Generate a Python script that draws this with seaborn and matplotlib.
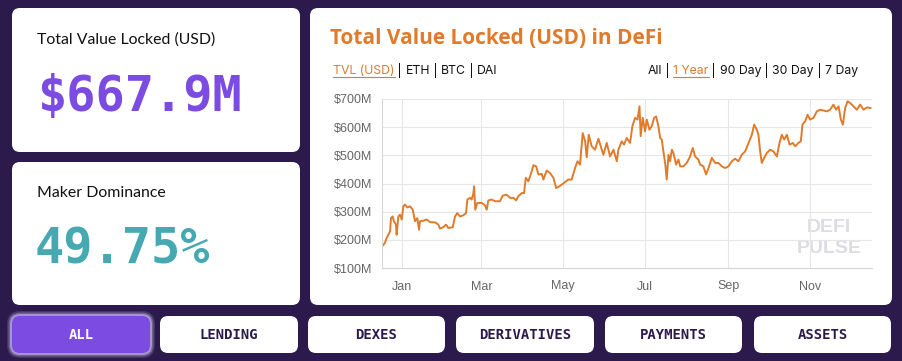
import numpy as np
import pandas as pd
import seaborn as sns
import matplotlib.pyplot as plt
import matplotlib.dates as mdates
from matplotlib.patches import FancyBboxPatch
from matplotlib.ticker import FuncFormatter

# data: days since 2018-12-17, TVL in $M
start_date = pd.Timestamp('2018-12-17')
day_offsets = [0.2, 2.2, 3.5, 4.7, 6.0, 6.7, 7.9, 8.9, 10.4, 10.9, 12.2, 13.4, 14.7, 15.9, 17.1, 18.9,
               20.9, 22.9, 24.6, 26.3, 27.6, 28.3, 30.8, 33.3, 35.8, 39.5, 42.0, 43.2, 45.7, 47.7, 49.4,
               52.7, 54.4, 56.1, 58.1, 60.6, 62.6, 63.6, 65.6, 66.8, 68.1, 68.6, 69.5, 71.0, 74.3, 76.8,
               78.0, 79.2, 81.7, 84.2, 87.9, 89.9, 92.9, 95.4, 97.9, 99.9, 101.6, 104.1, 105.8, 107.1,
               109.0, 110.8, 112.8, 114.8, 116.5, 119.0, 120.2, 122.7, 125.2, 127.7, 129.7, 132.1, 133.9,
               136.4, 138.8, 141.3, 143.8, 145.6, 147.5, 149.5, 151.3, 152.5, 154.0, 156.2, 158.7, 161.2,
               164.9, 167.4, 169.9, 172.4, 174.9, 176.1, 178.6, 180.3, 182.3, 184.8, 186.5, 188.5, 190.3,
               191.8, 192.7, 194.2, 196.0, 197.2, 199.2, 200.9, 202.7, 204.2, 205.9, 207.2, 208.4, 209.6,
               210.9, 212.1, 213.4, 214.6, 215.9, 217.1, 219.1, 220.8, 222.1, 224.5, 227.0, 229.5, 231.5,
               233.2, 235.7, 237.0, 239.4, 241.4, 243.2, 245.7, 248.1, 250.6, 253.1, 255.6, 258.1, 260.6,
               263.0, 265.5, 268.0, 270.5, 273.0, 275.5, 277.2, 279.2, 280.4, 281.7, 282.9, 284.7, 286.6,
               289.1, 291.6, 294.1, 296.1, 297.8, 299.6, 301.6, 303.6, 306.0, 307.8, 310.2, 312.0, 313.2,
               315.2, 317.0, 318.9, 321.4, 323.9, 326.4, 328.9, 331.4, 333.8, 336.3, 338.3, 340.1, 341.8,
               343.3, 345.0, 346.8, 348.7, 351.2, 353.7, 356.2, 358.7, 361.2, 364.1]
tvl_musd = [177, 189, 207, 218, 230, 277, 283, 266, 254, 218, 283, 289, 272, 319, 325, 315,
            319, 307, 266, 277, 236, 266, 268, 272, 263, 262, 254, 240, 245, 254, 242,
            245, 283, 295, 283, 287, 295, 343, 349, 343, 366, 390, 307, 331, 331, 322,
            307, 340, 343, 337, 337, 357, 360, 349, 349, 340, 355, 366, 366, 420,
            408, 432, 465, 461, 432, 434, 414, 446, 437, 420, 384, 390, 396,
            405, 414, 414, 455, 479, 467, 579, 550, 493, 573, 532, 520, 559,
            502, 544, 496, 520, 479, 520, 550, 538, 562, 544, 603, 633, 627,
            674, 568, 633, 585, 627, 591, 603, 633, 638, 603, 562, 556, 514,
            473, 414, 502, 479, 520, 508, 467, 485, 461, 461, 473, 496, 526,
            496, 485, 467, 461, 432, 455, 491, 473, 473, 461, 455, 461, 479,
            488, 479, 502, 514, 544, 573, 609, 591, 573, 514, 473, 491, 508,
            520, 514, 496, 544, 573, 556, 573, 538, 544, 532, 544, 550, 609,
            621, 644, 627, 633, 656, 662, 659, 656, 662, 680, 662, 674, 627,
            609, 668, 692, 686, 674, 662, 680, 662, 670, 668]

y_ticks = [100, 200, 300, 400, 500, 600, 700]
headline_tvl = '$667.9M'
headline_dom = '49.75%'
categories = ['ALL', 'LENDING', 'DEXES', 'DERIVATIVES', 'PAYMENTS', 'ASSETS']
unit_tabs = ['TVL (USD)', 'ETH', 'BTC', 'DAI']
range_tabs = ['All', '1 Year', '90 Day', '30 Day', '7 Day']

BG = '#2b1a4b'
ORANGE = '#e07b2c'
PURPLE = '#7b4be2'
TEAL = '#46a9b1'

sns.set_style('white')
plt.rcParams['font.family'] = ['Lato', 'DejaVu Sans']

W, H = 902, 361
fig = plt.figure(figsize=(W / 100, H / 100), dpi=100, facecolor=BG)

# full-figure axes in pixel units for the cards and buttons
bg = fig.add_axes([0, 0, 1, 1])
bg.set_xlim(0, W)
bg.set_ylim(H, 0)
bg.axis('off')
bg.patch.set_alpha(0)


def card(x0, y0, x1, y1, color='white', r=8, **kw):
    p = FancyBboxPatch((x0 + r, y0 + r), x1 - x0 - 2 * r, y1 - y0 - 2 * r,
                       boxstyle=f'round,pad={r}', fc=color, ec='none', **kw)
    bg.add_patch(p)


card(12, 8, 300, 152)
card(12, 162, 300, 305)
card(310, 8, 892, 305)

bg.text(37, 40, 'Total Value Locked (USD)', fontsize=11.4, color='#111111', va='center')
bg.text(37, 97, headline_tvl, fontsize=35, color=PURPLE, va='center',
        family='DejaVu Sans Mono', fontweight='bold')
bg.text(37, 193, 'Maker Dominance', fontsize=11.4, color='#111111', va='center')
bg.text(35, 250, headline_dom, fontsize=35, color=TEAL, va='center',
        family='DejaVu Sans Mono', fontweight='bold')

bg.text(330, 38, 'Total Value Locked (USD) in DeFi', fontsize=15, color=ORANGE,
        va='center', fontweight='bold', family='Open Sans')

# category buttons
btn_x = [(12, 150), (160, 298), (308, 445), (456, 594), (605, 742), (754, 891)]
for i, (name, (x0, x1)) in enumerate(zip(categories, btn_x)):
    if i == 0:
        for g, a in [(5, 0.15), (3.5, 0.3), (2, 0.5)]:
            card(x0 - g, 316 - g, x1 + g, 353 + g, color='#d9ccff', r=8 + g, alpha=a)
        card(x0, 316, x1, 353, color=PURPLE)
        tc = 'white'
    else:
        card(x0, 316, x1, 353)
        tc = '#2b1a4b'
    bg.text((x0 + x1) / 2, 335, name, fontsize=10, color=tc, ha='center', va='center',
            family='DejaVu Sans Mono', fontweight='bold')

# tab rows with one underlined item each
fig.canvas.draw()
renderer = fig.canvas.get_renderer()


def tab_row(items, active, x, y, align='left'):
    texts = []
    for i, s in enumerate(items):
        if i > 0:
            texts.append((bg.text(0, y, ' | ', fontsize=8.8, color='#111111', va='center',
                                  family='Inter'), False))
        texts.append((bg.text(0, y, s, fontsize=8.8, va='center', family='Inter',
                              color=ORANGE if i == active else '#111111'), i == active))
    widths = [t.get_window_extent(renderer).width for t, _ in texts]
    cur = x if align == 'left' else x - sum(widths)
    for (t, ul), w in zip(texts, widths):
        t.set_x(cur)
        if ul:
            bg.plot([cur, cur + w], [y + 6, y + 6], color=ORANGE, lw=0.8)
        cur += w


tab_row(unit_tabs, 0, 333, 71)
tab_row(range_tabs, 1, 858, 71, align='right')

# main chart
ax = fig.add_axes([382 / W, 1 - 268 / H, 490 / W, 169 / H])
ax.set_zorder(2)
dates = start_date + pd.to_timedelta(day_offsets, unit='D')
df = pd.DataFrame({'date': dates, 'tvl': tvl_musd})
sns.lineplot(data=df, x='date', y='tvl', ax=ax, color=ORANGE, linewidth=1.4)

ax.set_xlim(start_date, start_date + pd.Timedelta(days=365))
ax.set_ylim(100, 700)
ax.set_yticks(y_ticks)
ax.yaxis.set_major_formatter(FuncFormatter(lambda v, p: f'${v:.0f}M'))
ax.xaxis.set_major_locator(mdates.MonthLocator(bymonth=[1, 3, 5, 7, 9, 11]))
ax.xaxis.set_major_formatter(mdates.DateFormatter('%b'))
ax.set_xlabel('')
ax.set_ylabel('')
ax.grid(True, color='#e6e6e6', linewidth=0.8)
for s in ['top', 'right']:
    ax.spines[s].set_visible(False)
for s in ['left', 'bottom']:
    ax.spines[s].set_color('#d6d6d6')
    ax.spines[s].set_linewidth(0.8)
ax.tick_params(axis='both', length=5, width=0.8, color='#e0e0e0', labelcolor='#666666',
               labelsize=9)
ax.tick_params(axis='y', pad=2)
ax.tick_params(axis='x', pad=4)
for lab in ax.get_xticklabels() + ax.get_yticklabels():
    lab.set_family('Liberation Sans')

ax.text(0.912, 0.237, 'DEFI', transform=ax.transAxes, ha='center', va='center',
        fontsize=14, color='#dcdce4', family='Liberation Sans', fontweight='bold', zorder=0)
ax.text(0.912, 0.118, 'PULSE', transform=ax.transAxes, ha='center', va='center',
        fontsize=14, color='#dcdce4', family='Liberation Sans', fontweight='bold', zorder=0)

fig.savefig('out.png', dpi=100, facecolor=BG)
